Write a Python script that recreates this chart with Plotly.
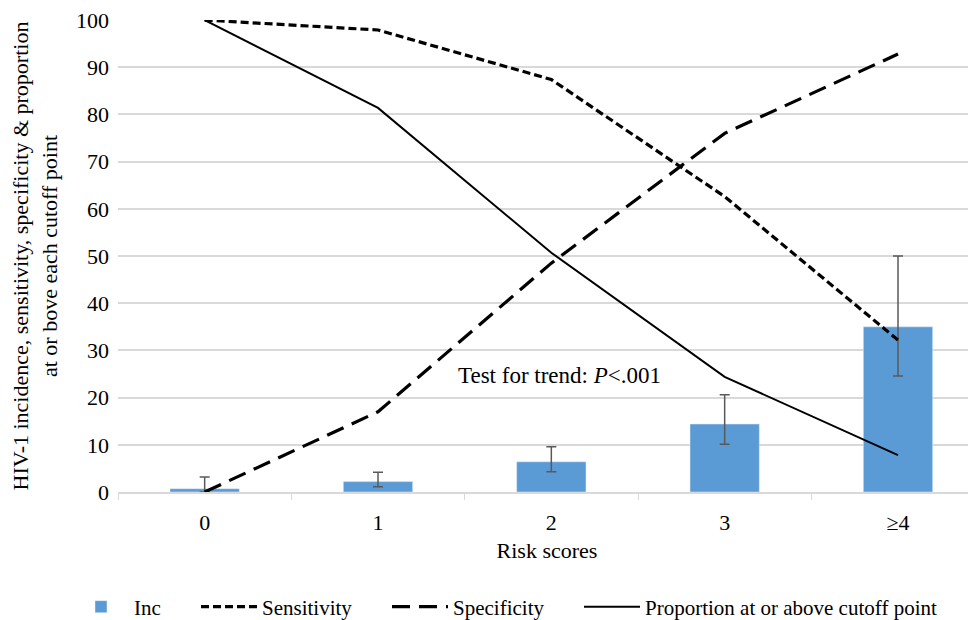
import plotly.graph_objects as go

categories = ["0", "1", "2", "3", "≥4"]
inc = [0.7, 2.2, 6.4, 14.4, 35.0]
inc_err_plus = [2.5, 2.0, 3.2, 6.2, 15.0]
inc_err_minus = [0.7, 1.1, 2.1, 4.3, 10.4]
sensitivity = [100, 97.9, 87.4, 62.6, 32.2]
specificity = [0, 17.0, 48.5, 76.0, 92.8]
proportion = [100, 81.4, 50.7, 24.4, 7.8]
y_ticks = [0, 10, 20, 30, 40, 50, 60, 70, 80, 90, 100]

FONT = "Liberation Serif"
# the page has an 8px body margin, so the figure is drawn 8px smaller
W, H = 968, 612

fig = go.Figure()
fig.add_trace(go.Bar(
    x=categories, y=inc, name="Inc", width=0.4,
    marker=dict(color="#5b9bd5"),
    error_y=dict(type="data", symmetric=False, array=inc_err_plus,
                 arrayminus=inc_err_minus, color="#595959", thickness=1.5, width=5),
    legend="legend",
))
fig.add_trace(go.Scatter(
    x=categories, y=sensitivity, name="Sensitivity", mode="lines",
    line=dict(color="black", width=3.2, dash="8px,4px"), legend="legend2",
))
fig.add_trace(go.Scatter(
    x=categories, y=specificity, name="Specificity", mode="lines",
    line=dict(color="black", width=3.2, dash="18px,9px"), legend="legend3",
))
fig.add_trace(go.Scatter(
    x=categories, y=proportion, name="Proportion at or above cutoff point", mode="lines",
    line=dict(color="black", width=2), legend="legend4",
))

def leg(px):
    return dict(orientation="h", xref="container", yref="container",
                x=px / W, xanchor="left", y=1 - 599 / H, yanchor="middle",
                font=dict(family=FONT, size=21, color="black"),
                itemwidth=56, bgcolor="rgba(0,0,0,0)")

fig.update_layout(
    width=W, height=H,
    margin=dict(l=110, r=0, t=12, b=128),
    paper_bgcolor="white", plot_bgcolor="white",
    font=dict(family=FONT, size=22, color="black"),
    showlegend=True,
    legend=leg(60), legend2=leg(188), legend3=leg(379), legend4=leg(571),
    xaxis=dict(
        type="category", range=[-0.5, 4.45],
        showline=True, linecolor="#d9d9d9", linewidth=1.5,
        ticks="outside", tickson="boundaries", ticklen=6, tickcolor="#d9d9d9",
        ticklabelstandoff=10,
        tickfont=dict(family=FONT, size=22, color="black"),
        title=dict(text="Risk scores", font=dict(family=FONT, size=22, color="black"), standoff=8),
        showgrid=False,
    ),
    yaxis=dict(
        range=[0, 100.02], tickmode="array", tickvals=y_ticks,
        showgrid=True, gridcolor="#d9d9d9", gridwidth=1.5,
        zeroline=False, showline=False, ticks="", ticklabelstandoff=8,
        ticklabeloverflow="allow", automargin=False,
        tickfont=dict(family=FONT, size=22, color="black"),
        title=dict(text="HIV-1 incidence, sensitivity, specificity &amp; proportion<br>at or bove each cutoff point",
                   font=dict(family=FONT, size=22, color="black"), standoff=21),
    ),
    annotations=[dict(
        text="Test for trend: <i>P</i>&lt;.001", x=2.048, y=24.6, xref="x", yref="y",
        showarrow=False, font=dict(family=FONT, size=23, color="black"),
    )],
)

fig.write_html("out.html")
